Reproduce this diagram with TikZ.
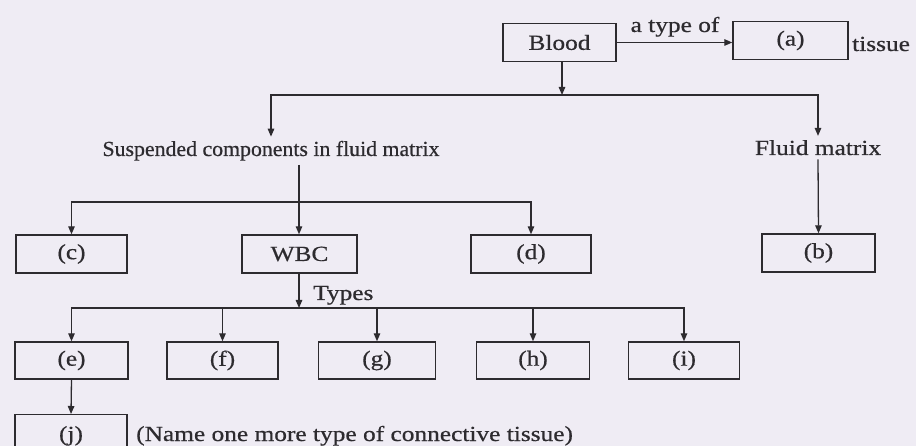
\documentclass[tikz,border=0pt]{standalone}
\usepackage{fontspec}
\setmainfont{Liberation Serif}[FakeStretch=1.18,FakeBold=0.6]
\usetikzlibrary{arrows.meta}
\definecolor{paper}{RGB}{239,236,244}
\definecolor{ink}{RGB}{45,43,47}
\begin{document}
\begin{tikzpicture}[x=1pt,y=-1pt,
  every node/.style={text=ink, font=\fontsize{21.5}{24}\selectfont},
  box/.style={draw=ink, line width=1.4pt, minimum height=38pt, inner sep=0pt},
  lbl/.style={inner sep=0pt},
  ln/.style={draw=ink, line width=1.3pt},
  arr/.style={ln, -{Triangle[length=8pt,width=6.5pt]}}]
\fill[paper] (0,0) rectangle (916,446);
\useasboundingbox (0,0) rectangle (916,446);
\clip (0,0) rectangle (916,446);

% top row
\node[box, minimum width=113pt] (blood) at (559.5,42.5) {Blood};
\node[box, minimum width=115pt] (a) at (790.5,40.5) {(a)};
\node[lbl, anchor=base] (typeof) at (675,32) {a type of};
\node[lbl, anchor=base west] (tissue) at (852,51) {tissue};

% second level headings
\node[lbl, anchor=base] (susp) at (271,156) {\scalebox{0.86}[1]{Suspended components in fluid matrix}};
\node[lbl, anchor=base] (fluid) at (818,155) {Fluid matrix};

% third row
\node[box, minimum width=111pt] (c) at (71.5,254) {(c)};
\node[box, minimum width=115pt] (wbc) at (299.5,254) {WBC};
\node[box, minimum width=120pt] (d) at (531,254) {(d)};
\node[box, minimum width=113pt] (b) at (818.5,253) {(b)};

% WBC types
\node[lbl, anchor=base west] (types) at (313,300) {Types};
\node[box, minimum width=113pt, minimum height=37pt] (e) at (71.5,360.5) {(e)};
\node[box, minimum width=111pt, minimum height=37pt] (f) at (222.5,360.5) {(f)};
\node[box, minimum width=117pt, minimum height=37pt] (g) at (377,360.5) {(g)};
\node[box, minimum width=113pt, minimum height=37pt] (h) at (533,360.5) {(h)};
\node[box, minimum width=111pt, minimum height=37pt] (i) at (684,360.5) {(i)};

% last row, running off the lower edge
\node[box, minimum width=112pt, minimum height=42pt, anchor=north] (j) at (71,414) {};
\node[lbl, anchor=base] (jtxt) at (71,441) {(j)};
\node[lbl, anchor=base west] (note) at (136,441) {(Name one more type of connective tissue)};

% connectors
\draw[arr] (blood.east) -- (blood.east -| a.west);
\coordinate (bar1) at (562,95);
\draw[arr] (blood.south -| bar1) -- (bar1);
\draw[arr, shorten >=4pt] (bar1) -| (susp.north);
\draw[arr, shorten >=4pt] (bar1) -| (fluid.north);

\coordinate (bar2) at (299,202);
\draw[ln] (susp.south -| bar2) ++(0,4) -- (bar2);
\draw[arr] (bar2) -- (bar2 |- wbc.north);
\draw[arr] (bar2) -| (c.north);
\draw[arr] (bar2) -| (d.north);
\draw[arr] (fluid.south) ++(0,4) -- (b.north);

\coordinate (bar3) at (299,308);
\draw[arr] (wbc.south -| bar3) -- (bar3);
\draw[arr] (bar3) -| (e.north);
\draw[arr] (bar3) -| (f.north);
\draw[arr] (bar3) -| (g.north);
\draw[arr] (bar3) -| (h.north);
\draw[arr] (bar3) -| (i.north);
\draw[arr] (e.south) -- (j.north);
\end{tikzpicture}
\end{document}
